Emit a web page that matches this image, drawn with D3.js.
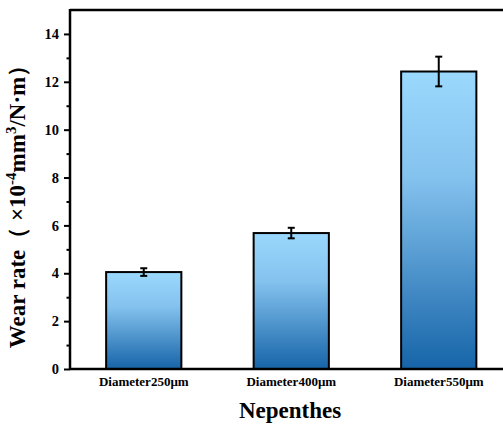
<!DOCTYPE html>
<html><head><meta charset="utf-8">
<script src="https://cdn.jsdelivr.net/npm/d3@7"></script>
<style>body{margin:0;background:#fff}svg{display:block}
svg text{font-family:"Liberation Serif","Times New Roman",Times,"DejaVu Serif",serif !important;font-weight:bold;fill:#000}</style>
</head><body>
<svg id="c" width="503" height="424"></svg>
<script>
const categories = ["Diameter250μm","Diameter400μm","Diameter550μm"];
const values = [4.05, 5.68, 12.43];
const errors = [0.16, 0.22, 0.62];
const yTicks = [0,2,4,6,8,10,12,14];
const yMinorTicks = [1,3,5,7,9,11,13];

const svg = d3.select("#c");
const L = 70, T = 10, B = 369, R = 512.5;

const defs = svg.append("defs");
const g = defs.append("linearGradient").attr("id","grad").attr("x1",0).attr("y1",0).attr("x2",0).attr("y2",1);
g.append("stop").attr("offset","0%").attr("stop-color","#9ad8fd");
g.append("stop").attr("offset","35%").attr("stop-color","#85c3ef");
g.append("stop").attr("offset","100%").attr("stop-color","#1664a8");

const x = d3.scaleBand().domain(categories).range([L, R]).paddingInner(0.49).paddingOuter(0.245);
const y = d3.scaleLinear().domain([0,15]).range([B, T]);

svg.selectAll("rect.bar").data(values).enter().append("rect")
  .attr("x",(d,i)=>x(categories[i]))
  .attr("width",x.bandwidth())
  .attr("y",d=>y(d))
  .attr("height",d=>y(0)-y(d))
  .attr("fill","url(#grad)")
  .attr("stroke","#000").attr("stroke-width",2);

const eb = svg.append("g").attr("stroke","#000").attr("stroke-width",2);
values.forEach((v,i)=>{
  const cx = x(categories[i]) + x.bandwidth()/2;
  eb.append("line").attr("x1",cx).attr("x2",cx).attr("y1",y(v+errors[i])).attr("y2",y(v-errors[i]));
  eb.append("line").attr("x1",cx-3.5).attr("x2",cx+3.5).attr("y1",y(v+errors[i])).attr("y2",y(v+errors[i]));
  eb.append("line").attr("x1",cx-3.5).attr("x2",cx+3.5).attr("y1",y(v-errors[i])).attr("y2",y(v-errors[i]));
});

const ya = svg.append("g").attr("transform",`translate(${L},0)`)
  .call(d3.axisLeft(y).tickValues(yTicks).tickSize(6).tickPadding(5));
ya.select(".domain").remove();
ya.selectAll(".tick line").attr("stroke","#000").attr("stroke-width",2);
ya.selectAll(".tick text").attr("font-size",14.5).attr("fill","#000");
const ym = svg.append("g").attr("transform",`translate(${L},0)`)
  .call(d3.axisLeft(y).tickValues(yMinorTicks).tickSize(3.5).tickFormat(""));
ym.select(".domain").remove();
ym.selectAll(".tick line").attr("stroke","#000").attr("stroke-width",2);

const xa = svg.append("g").attr("transform",`translate(0,${B})`)
  .call(d3.axisBottom(x).tickSize(0).tickPadding(8));
xa.select(".domain").remove();
xa.selectAll(".tick text").attr("font-size",13).attr("fill","#000");

svg.append("line").attr("x1",L).attr("x2",503).attr("y1",B).attr("y2",B).attr("stroke","#000").attr("stroke-width",2.5);
svg.append("line").attr("x1",L).attr("x2",503).attr("y1",T).attr("y2",T).attr("stroke","#000").attr("stroke-width",2.5);
svg.append("line").attr("x1",L).attr("x2",L).attr("y1",T-1).attr("y2",B+1).attr("stroke","#000").attr("stroke-width",2.5);

svg.append("text").attr("x",290).attr("y",418).attr("text-anchor","middle")
  .attr("font-size",23).text("Nepenthes");

const yt = svg.append("text").attr("transform","translate(25,201) rotate(-90)").attr("text-anchor","middle")
  .attr("font-size",23);
yt.append("tspan").text("Wear rate\uFF08 \u00D710");
yt.append("tspan").attr("dy",-9).attr("font-size",15).text("-4");
yt.append("tspan").attr("dy",9).text("mm");
yt.append("tspan").attr("dy",-9).attr("font-size",15).text("3");
yt.append("tspan").attr("dy",9).text("/N\u00B7m\uFF09");
</script>
</body></html>
